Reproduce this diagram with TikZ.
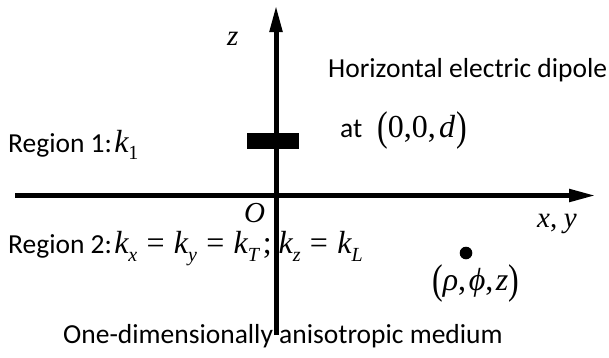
\documentclass[tikz,border=0pt]{standalone}
\usepackage{fontspec}
\usepackage{graphicx}
\setmainfont{Carlito}
\newfontfamily\tnr{Liberation Serif}
\usetikzlibrary{arrows.meta}
\newcommand{\mv}[1]{{\tnr\itshape #1}}
\newcommand{\mr}[1]{{\tnr #1}}
\newcommand{\sbs}[1]{\raisebox{-0.28em}{\fontsize{20}{20}\selectfont\tnr\itshape #1}}
\newcommand{\sbr}[1]{\raisebox{-0.28em}{\fontsize{20}{20}\selectfont\tnr #1}}
\newcommand{\eqs}{\hspace{0.29em}\mr{=}\hspace{0.29em}}
\newcommand{\lp}{\raisebox{-0.12em}{\scalebox{1}[1.3]{\mr{(}}}}
\newcommand{\rp}{\raisebox{-0.12em}{\scalebox{1}[1.3]{\mr{)}}}}
\begin{document}
\begin{tikzpicture}[x=1pt,y=-1pt,
  txt/.style={inner sep=0pt,anchor=base west,font=\fontsize{27.5}{33}\selectfont},
  mth/.style={inner sep=0pt,anchor=base west,font=\fontsize{29}{34}\selectfont},
  bigm/.style={inner sep=0pt,anchor=base west,font=\fontsize{32}{36}\selectfont},
  axis/.style={line width=5pt,-{Triangle[length=27pt,width=12pt]}}]
\useasboundingbox (0,0) rectangle (609,357);
% axes
\coordinate (xs) at (15,195.5);
\coordinate (xe) at (596,195.5);
\coordinate (zs) at (276,335);
\coordinate (ze) at (276,5);
\draw[axis] (xs) -- (xe);
\draw[axis] (zs) -- (ze);
% dipole
\node[fill=black,inner sep=0pt,minimum width=52pt,minimum height=16pt] (dip) at (273,141) {};
% labels
\node[mth] (zl) at (227,45) {\mv{z}};
\node[mth] (ol) at (244,222) {\mv{O}};
\node[mth] (xy) at (537,227) {\mv{x}\mr{,} \mv{y}};
\node[txt] (r1) at (8,152) {Region 1:\hspace{0.08em}\mv{\fontsize{32}{36}\selectfont k}\sbr{1}};
\node[txt] (hed) at (328,77) {Horizontal electric dipole};
\node[txt] (at) at (340,137) {at};
\node[bigm] (pos) at (377,137) {\lp\mr{0,0,}\hspace{0.1em}\mv{d}\hspace{0.05em}\rp};
\node[txt] (r2) at (8,253) {Region 2:\hspace{0.08em}{\fontsize{32}{36}\selectfont\mv{k}\sbs{x}\eqs\mv{k}\sbs{y}\eqs\mv{k}\sbs{T}\hspace{0.12em}\mr{;}\hspace{0.22em}\mv{k}\sbs{z}\eqs\mv{k}\sbs{L}}};
\fill (466,253) circle (6.3pt) node[inner sep=0pt] (pt) {};
\node[bigm] (sph) at (432,290) {\lp\mv{ρ}\mr{,}\hspace{0.08em}\mv{ϕ}\mr{,}\hspace{0.08em}\mv{z}\rp};
\node[txt] (med) at (63,343) {One-dimensionally anisotropic medium};
\end{tikzpicture}
\end{document}
